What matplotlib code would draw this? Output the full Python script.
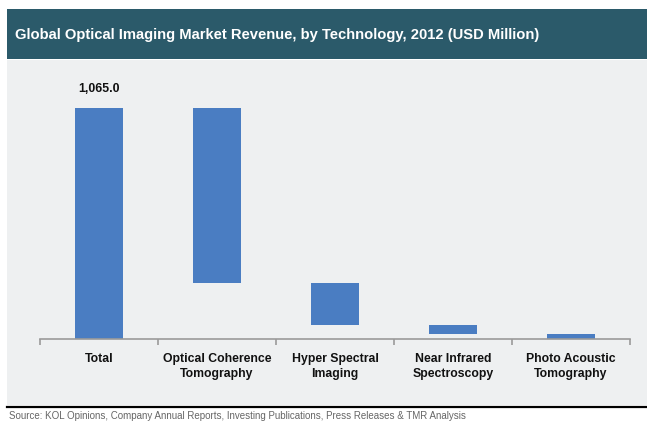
import numpy as np
from matplotlib import pyplot as plt
from matplotlib.patches import Rectangle
from matplotlib.lines import Line2D

categories = ['Total', 'Optical Coherence\nTomography', 'Hyper Spectral\nImaging',
              'Near Infrared\nSpectroscopy', 'Photo Acoustic\nTomography']
total = 1065.0
segments = [807.0, 194.0, 41.0, 23.0]

HEADER = '#2b5a6a'
PANEL = '#eef0f1'
BAR = '#4a7dc2'

plt.rcParams['font.family'] = ['Liberation Sans', 'DejaVu Sans']

fig = plt.figure(figsize=(6.47, 4.22), dpi=100)
W, H = 647, 422

def px(x0, y0, w, h):
    # pixel box (top-left origin) -> figure fraction rect
    return (x0 / W, 1 - (y0 + h) / H, w / W, h / H)

# header band and panel
bx, by, bw, bh = px(7, 9, 640, 50)
fig.patches.append(Rectangle((bx, by), bw, bh, transform=fig.transFigure,
                             facecolor=HEADER, edgecolor='none', zorder=-2))
px_, py_, pw_, ph_ = px(7, 60, 640, 345)
fig.patches.append(Rectangle((px_, py_), pw_, ph_, transform=fig.transFigure,
                             facecolor=PANEL, edgecolor='none', zorder=-2))
fig.lines.append(Line2D([7 / W, 1], [1 - 407 / H] * 2, transform=fig.transFigure,
                        color='black', linewidth=1.6))

fig.text(15 / W, 1 - 35 / H,
         'Global Optical Imaging Market Revenue, by Technology, 2012 (USD Million)',
         color='white', fontsize=10.6, fontweight='bold', va='center', ha='left')
fig.text(9 / W, 1 - 416 / H,
         'Source: KOL Opinions, Company Annual Reports, Investing Publications, Press Releases & TMR Analysis',
         color='#666666', fontsize=7, va='center', ha='left')

# waterfall axes
ax = fig.add_axes(px(40, 70, 590, 269))
ax.set_zorder(2)
ax.set_facecolor('none')
ax.set_xlim(-0.5, 4.5)
ax.set_ylim(0, 1240)

heights = [total] + segments
bottoms = [0.0]
level = total
for s in segments:
    level -= s
    bottoms.append(max(level, 0.0))
x = np.arange(len(categories))
ax.bar(x, heights, bottom=bottoms, width=0.41, color=BAR, zorder=2)

ax.annotate(f'{total:,.1f}', (0, total), xytext=(0, 9), textcoords='offset points',
            ha='center', va='bottom', fontsize=8.8, fontweight='bold', color='#111111')

for side in ['top', 'right', 'left']:
    ax.spines[side].set_visible(False)
ax.spines['bottom'].set_color('#9a9a9a')
ax.spines['bottom'].set_linewidth(1.2)
ax.set_yticks([])
ax.set_xticks(np.arange(-0.5, 5.0, 1.0), minor=False)
ax.set_xticklabels([])
ax.tick_params(axis='x', which='major', length=4, color='#9a9a9a', width=1.2)
ax.set_xticks(x, minor=True)
ax.set_xticklabels(categories, minor=True)
ax.tick_params(axis='x', which='minor', length=0, pad=10, labelsize=8.8,
               labelcolor='#111111')
for lab in ax.get_xticklabels(minor=True):
    lab.set_fontweight('bold')
    lab.set_linespacing(1.4)

plt.savefig('out.png', dpi=100)
